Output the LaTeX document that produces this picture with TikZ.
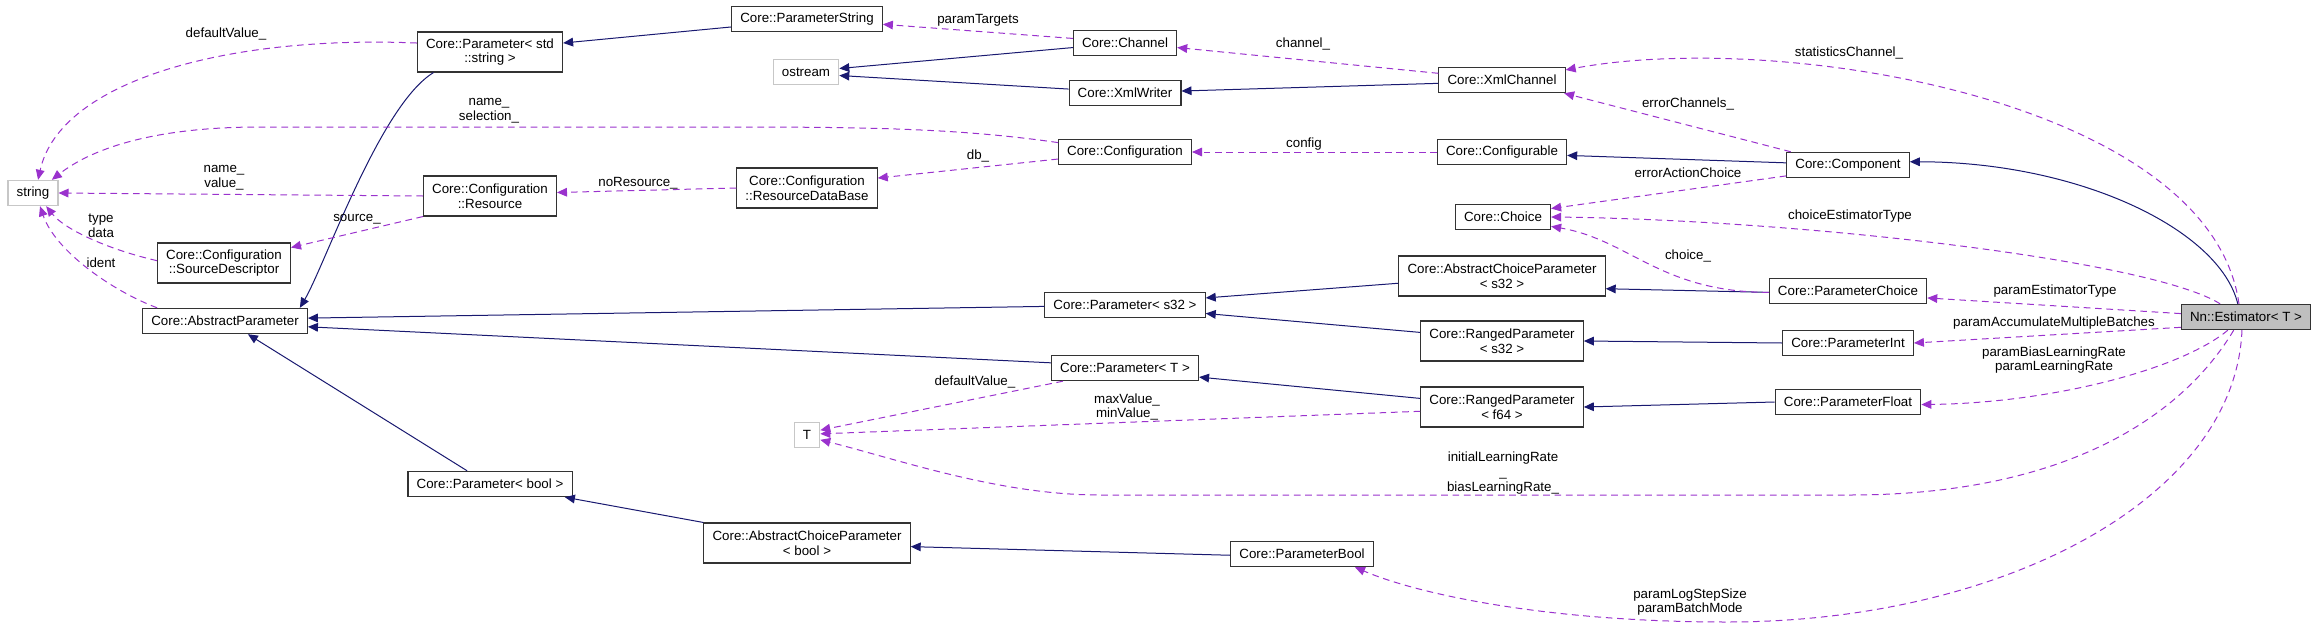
\documentclass[tikz,border=0pt]{standalone}
\usepackage{fontspec}
\setmainfont{Liberation Sans}
\usetikzlibrary{arrows.meta}

\definecolor{inhblue}{HTML}{191970}
\definecolor{usepurple}{HTML}{9A32CD}

\begin{document}
\begin{tikzpicture}[x=0.75pt, y=-0.75pt,
    cls/.style={draw=black!80, fill=white, line width=0.8pt, font=\fontsize{10}{11}\selectfont,
      align=center, inner xsep=6.5pt, inner ysep=2pt, minimum height=19pt},
    cls2/.style={cls, minimum height=30pt},
    ext/.style={cls, draw=black!22},
    lbl/.style={font=\fontsize{10}{11}\selectfont, align=center, inner sep=0pt},
    inh/.style={inhblue, line width=0.75pt, -{Triangle[length=7.5pt,width=6.5pt]}},
    use/.style={usepurple, line width=0.75pt, dash pattern=on 5pt off 3.5pt,
      -{Triangle[length=7.5pt,width=6.5pt]}}]
    \useasboundingbox (0,0) rectangle (2319,628);

    % classes
    \node[ext] (str) at (33,193) {string};
    \node[cls2] (pstd) at (490,52) {Core::Parameter< std\\::string >};
    \node[cls] (pstr) at (807,19) {Core::ParameterString};
    \node[ext] (ostr) at (806,72) {ostream};
    \node[cls] (chan) at (1125,43) {Core::Channel};
    \node[cls] (xmlw) at (1125,93) {Core::XmlWriter};
    \node[cls] (xmlc) at (1502,80) {Core::XmlChannel};
    \node[cls] (conf) at (1125,152) {Core::Configuration};
    \node[cls] (cfgb) at (1502,152) {Core::Configurable};
    \node[cls] (comp) at (1848,165) {Core::Component};
    \node[cls2] (res) at (490,196) {Core::Configuration\\::Resource};
    \node[cls2] (rdb) at (807,188) {Core::Configuration\\::ResourceDataBase};
    \node[cls2] (srcd) at (224,263) {Core::Configuration\\::SourceDescriptor};
    \node[cls] (absp) at (225,321) {Core::AbstractParameter};
    \node[cls] (choice) at (1503,217) {Core::Choice};
    \node[cls2] (acps) at (1502,276) {Core::AbstractChoiceParameter\\< s32 >};
    \node[cls] (pchoice) at (1848,291) {Core::ParameterChoice};
    \node[cls] (ps32) at (1125,305) {Core::Parameter< s32 >};
    \node[cls2] (rps32) at (1502,341) {Core::RangedParameter\\< s32 >};
    \node[cls] (pint) at (1848,343) {Core::ParameterInt};
    \node[cls] (pT) at (1125,368) {Core::Parameter< T >};
    \node[cls2] (rpf64) at (1502,407) {Core::RangedParameter\\< f64 >};
    \node[cls] (pfloat) at (1848,402) {Core::ParameterFloat};
    \node[ext] (T) at (807,435) {T};
    \node[cls] (pbool) at (490,484) {Core::Parameter< bool >};
    \node[cls2] (acpb) at (807,543) {Core::AbstractChoiceParameter\\< bool >};
    \node[cls] (pbl) at (1302,554) {Core::ParameterBool};
    \node[cls, fill=black!25] (est) at (2246,317) {Nn::Estimator< T >};

    % inheritance
    \draw[inh] (pstd.200) .. controls (380,105) and (325,265) .. (absp.10);
    \draw[inh] (pstr.186) -- (pstd.7);
    \draw[inh] (chan.185) -- (ostr.6);
    \draw[inh] (xmlw.176) -- (ostr.354);
    \draw[inh] (xmlc.183) -- (xmlw.2);
    \draw[inh] (comp.178) -- (cfgb.357);
    \draw[inh] (est.122) .. controls (2220,230) and (2080,162) .. (comp.3);
    \draw[inh] (ps32.181) -- (absp.2);
    \draw[inh] (pT.176) -- (absp.356);
    \draw[inh] (pbool.150) -- (absp.330);
    \draw[inh] (acps.184) -- (ps32.5);
    \draw[inh] (rps32.174) -- (ps32.354);
    \draw[inh] (rpf64.174) -- (pT.353);
    \draw[inh] (pchoice.181) -- (acps.353);
    \draw[inh] (pint.west) -- (rps32.east);
    \draw[inh] (pfloat.west) -- (rpf64.east);
    \draw[inh] (acpb.north west) -- (pbool.350);
    \draw[inh] (pbl.181) -- (acpb.358);

    % members
    \draw[use] (pstd.173) .. controls (230,35) and (60,80) .. (str.69);
    \draw[use] (conf.172) .. controls (950,127) and (850,127) .. (700,127) -- (260,127)
        .. controls (150,127) and (90,150) .. (str.35);
    \draw[use] (res.west) -- (str.east);
    \draw[use] (srcd.178) .. controls (110,250) and (65,230) .. (str.315);
    \draw[use] (absp.169) .. controls (110,290) and (55,250) .. (str.298);
    \draw[use] (res.south west) -- (srcd.13);
    \draw[use] (rdb.west) -- (res.3);
    \draw[use] (conf.186) -- (rdb.8);
    \draw[use] (chan.175) -- (pstr.356);
    \draw[use] (xmlc.174) -- (chan.355);
    \draw[use] (cfgb.west) -- (conf.east);
    \draw[use] (comp.167) -- (xmlc.348);
    \draw[use] (comp.190) -- (choice.10);
    \draw[use] (pchoice.181) .. controls (1660,292) and (1630,240) .. (choice.349);
    \draw[use] (est.118) .. controls (2210,100) and (1780,30) .. (xmlc.9);
    \draw[use] (est.153) .. controls (2150,260) and (1800,220) .. (choice.east);
    \draw[use] (est.177) -- (pchoice.355);
    \draw[use] (est.189) -- (pint.east);
    \draw[use] (est.216) .. controls (2180,370) and (2050,403) .. (pfloat.358);
    \draw[use] (est.227) .. controls (2180,420) and (2060,495) .. (1850,495) -- (1100,495)
        .. controls (1000,495) and (900,460) .. (T.340);
    \draw[use] (est.253) .. controls (2235,500) and (2000,622) .. (1727,622)
        .. controls (1550,622) and (1420,595) .. (pbl.346);
    \draw[use] (pT.192) -- (T.20);
    \draw[use] (rpf64.183) -- (T.5);

    % member names
    \node[lbl] (ldef) at (226,34) {defaultValue\_};
    \node[lbl] (lsel) at (489,111) {name\_\\selection\_};
    \node[lbl] (lval) at (224,178) {name\_\\value\_};
    \node[lbl] (ltype) at (101,226) {type\\data};
    \node[lbl] (lident) at (101,263) {ident};
    \node[lbl] (lsrc) at (357,219) {source\_};
    \node[lbl] (lnores) at (638,183) {noResource\_};
    \node[lbl] (ldb) at (978,156) {db\_};
    \node[lbl] (ltarg) at (978,20) {paramTargets};
    \node[lbl] (lchan) at (1303,44) {channel\_};
    \node[lbl] (lconf) at (1304,144) {config};
    \node[lbl] (lstat) at (1849,53) {statisticsChannel\_};
    \node[lbl] (lerrc) at (1688,104) {errorChannels\_};
    \node[lbl] (lerra) at (1688,173) {errorActionChoice};
    \node[lbl] (lcet) at (1850,216) {choiceEstimatorType};
    \node[lbl] (lchoice) at (1688,256) {choice\_};
    \node[lbl] (lpet) at (2055,291) {paramEstimatorType};
    \node[lbl] (lpamb) at (2054,323) {paramAccumulateMultipleBatches};
    \node[lbl] (lplr) at (2054,360) {paramBiasLearningRate\\paramLearningRate};
    \node[lbl] (ldefT) at (975,382) {defaultValue\_};
    \node[lbl] (lminmax) at (1127,407) {maxValue\_\\minValue\_};
    \node[lbl] (llr) at (1503,473) {initialLearningRate\\\_\\biasLearningRate\_};
    \node[lbl] (lbatch) at (1690,602) {paramLogStepSize\\paramBatchMode};
\end{tikzpicture}
\end{document}
